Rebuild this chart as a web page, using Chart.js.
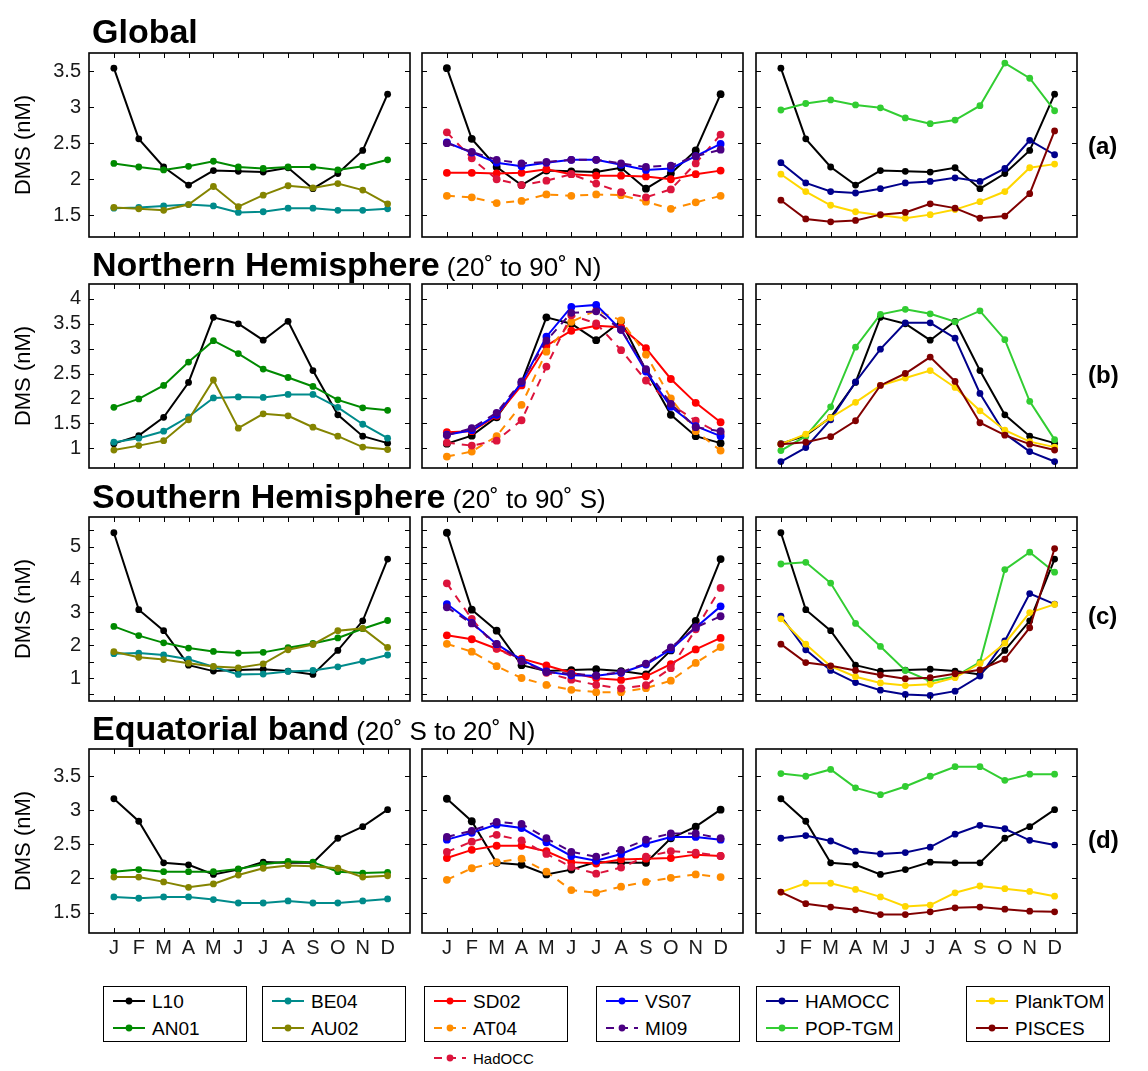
<!DOCTYPE html>
<html>
<head>
<meta charset="utf-8">
<title>DMS seasonal cycles</title>
<script src="https://cdn.jsdelivr.net/npm/chart.js@4.4.1/dist/chart.umd.min.js"></script>
<style>
  body { margin:0; background:#fff; width:1148px; height:1071px; position:relative; overflow:hidden;
         font-family:"Liberation Sans", Arial, Helvetica, sans-serif; }
  canvas.panel { position:absolute; }
  .title { position:absolute; left:92px; font-size:34px; font-weight:bold; color:#000; white-space:nowrap; line-height:1; }
  .title span { font-weight:normal; font-size:26px; }
  .tag { position:absolute; left:1088px; font-size:24px; font-weight:bold; color:#000; line-height:1; }
  .box { position:absolute; border:1px solid #000; background:#fff; }
  .entry { position:absolute; white-space:nowrap; color:#000; line-height:1; }
  .entry canvas { position:absolute; }
</style>
</head>
<body>
<script>
// Month tick labels
const months = ['J','F','M','A','M','J','J','A','S','O','N','D'];

// y-axis ticks per region
const gloTicks = [1.5, 2, 2.5, 3, 3.5];
const nhTicks  = [1, 1.5, 2, 2.5, 3, 3.5, 4];
const shTicks  = [0.5, 1, 1.5, 2, 2.5, 3, 3.5, 4, 4.5, 5, 5.5];
const eqTicks  = [1.5, 2, 2.5, 3, 3.5];

// Global
const glo_L10      = [3.54, 2.56, 2.17, 1.92, 2.12, 2.11, 2.10, 2.16, 1.87, 2.08, 2.40, 3.18];
const glo_AN01     = [2.22, 2.17, 2.13, 2.18, 2.25, 2.17, 2.15, 2.17, 2.17, 2.13, 2.18, 2.27];
const glo_BE04     = [1.60, 1.61, 1.63, 1.65, 1.63, 1.54, 1.55, 1.60, 1.60, 1.57, 1.57, 1.59];
const glo_AU02     = [1.61, 1.59, 1.57, 1.65, 1.90, 1.62, 1.78, 1.91, 1.88, 1.94, 1.85, 1.66];
const glo_SD02     = [2.09, 2.09, 2.08, 2.09, 2.14, 2.07, 2.05, 2.05, 2.04, 2.00, 2.07, 2.12];
const glo_AT04     = [1.77, 1.75, 1.67, 1.70, 1.79, 1.77, 1.79, 1.78, 1.69, 1.59, 1.68, 1.77];
const glo_HadOCC   = [2.65, 2.29, 2.00, 1.92, 1.98, 2.07, 1.94, 1.82, 1.75, 1.86, 2.22, 2.62];
const glo_VS07     = [2.51, 2.37, 2.23, 2.18, 2.23, 2.27, 2.27, 2.20, 2.13, 2.15, 2.32, 2.49];
const glo_MI09     = [2.50, 2.38, 2.27, 2.22, 2.24, 2.27, 2.27, 2.22, 2.17, 2.19, 2.32, 2.41];
const glo_HAMOCC   = [2.23, 1.95, 1.83, 1.81, 1.87, 1.95, 1.97, 2.02, 1.97, 2.15, 2.54, 2.34];
const glo_POPTGM   = [2.96, 3.05, 3.10, 3.03, 2.99, 2.85, 2.77, 2.82, 3.02, 3.61, 3.40, 2.95];
const glo_PlankTOM = [2.07, 1.83, 1.64, 1.55, 1.50, 1.46, 1.51, 1.58, 1.69, 1.83, 2.16, 2.21];
const glo_PISCES   = [1.71, 1.45, 1.41, 1.43, 1.51, 1.54, 1.66, 1.60, 1.46, 1.49, 1.80, 2.67];

// Northern Hemisphere (20° to 90° N)
const nh_L10      = [1.09, 1.25, 1.62, 2.32, 3.63, 3.50, 3.17, 3.55, 2.56, 1.67, 1.24, 1.10];
const nh_AN01     = [1.82, 1.99, 2.26, 2.73, 3.16, 2.90, 2.59, 2.42, 2.24, 1.97, 1.81, 1.76];
const nh_BE04     = [1.12, 1.20, 1.34, 1.63, 2.01, 2.03, 2.02, 2.08, 2.08, 1.82, 1.48, 1.20];
const nh_AU02     = [0.96, 1.05, 1.15, 1.57, 2.37, 1.40, 1.69, 1.65, 1.42, 1.24, 1.02, 0.97];
const nh_SD02     = [1.32, 1.34, 1.65, 2.26, 3.06, 3.36, 3.46, 3.43, 3.01, 2.39, 1.91, 1.52];
const nh_AT04     = [0.83, 0.93, 1.24, 1.87, 2.94, 3.54, 3.77, 3.57, 2.88, 2.00, 1.34, 0.95];
const nh_HadOCC   = [1.11, 1.05, 1.15, 1.56, 2.64, 3.67, 3.51, 2.97, 2.36, 1.88, 1.55, 1.29];
const nh_VS07     = [1.27, 1.36, 1.67, 2.31, 3.24, 3.84, 3.88, 3.38, 2.54, 1.83, 1.44, 1.24];
const nh_MI09     = [1.26, 1.40, 1.71, 2.34, 3.16, 3.72, 3.75, 3.38, 2.59, 1.89, 1.42, 1.34];
const nh_HAMOCC   = [0.73, 1.01, 1.57, 2.33, 2.99, 3.52, 3.52, 3.21, 2.10, 1.29, 0.93, 0.73];
const nh_POPTGM   = [0.95, 1.24, 1.83, 3.03, 3.69, 3.79, 3.70, 3.54, 3.76, 3.18, 1.94, 1.17];
const nh_PlankTOM = [1.08, 1.28, 1.61, 1.92, 2.26, 2.41, 2.56, 2.22, 1.75, 1.36, 1.13, 1.02];
const nh_PISCES   = [1.08, 1.12, 1.23, 1.55, 2.26, 2.50, 2.83, 2.34, 1.51, 1.26, 1.08, 0.96];

// Southern Hemisphere (20° to 90° S)
const sh_L10      = [5.42, 3.08, 2.44, 1.39, 1.21, 1.24, 1.27, 1.21, 1.11, 1.84, 2.74, 4.62];
const sh_AN01     = [2.57, 2.29, 2.07, 1.91, 1.81, 1.76, 1.78, 1.92, 2.05, 2.22, 2.50, 2.75];
const sh_BE04     = [1.74, 1.76, 1.70, 1.57, 1.34, 1.11, 1.12, 1.20, 1.23, 1.34, 1.51, 1.70];
const sh_AU02     = [1.80, 1.63, 1.56, 1.45, 1.35, 1.31, 1.43, 1.86, 2.02, 2.44, 2.51, 1.93];
const sh_SD02     = [2.30, 2.18, 1.89, 1.59, 1.38, 1.16, 0.99, 0.94, 1.05, 1.42, 1.87, 2.22];
const sh_AT04     = [2.04, 1.80, 1.36, 1.00, 0.79, 0.64, 0.57, 0.57, 0.69, 0.92, 1.46, 1.94];
const sh_HadOCC   = [3.88, 2.80, 1.90, 1.52, 1.16, 0.95, 0.79, 0.68, 0.78, 1.30, 2.48, 3.74];
const sh_VS07     = [3.25, 2.68, 2.03, 1.55, 1.20, 1.08, 1.07, 1.16, 1.41, 1.87, 2.54, 3.18];
const sh_MI09     = [3.15, 2.66, 2.04, 1.51, 1.18, 1.13, 1.08, 1.18, 1.44, 1.93, 2.54, 2.88];
const sh_HAMOCC   = [2.88, 1.86, 1.23, 0.86, 0.63, 0.50, 0.47, 0.60, 1.06, 2.13, 3.57, 3.25];
const sh_POPTGM   = [4.47, 4.52, 3.89, 2.66, 1.96, 1.23, 0.90, 1.04, 1.48, 4.30, 4.83, 4.22];
const sh_PlankTOM = [2.80, 2.03, 1.36, 1.04, 0.85, 0.77, 0.81, 1.01, 1.44, 2.06, 2.99, 3.24];
const sh_PISCES   = [2.03, 1.47, 1.37, 1.23, 1.09, 0.98, 1.01, 1.13, 1.25, 1.57, 2.53, 4.94];

// Equatorial band (20° S to 20° N)
const eq_L10      = [3.17, 2.84, 2.23, 2.20, 2.06, 2.13, 2.24, 2.23, 2.23, 2.59, 2.76, 3.01];
const eq_AN01     = [2.10, 2.13, 2.10, 2.10, 2.10, 2.14, 2.21, 2.25, 2.24, 2.10, 2.08, 2.09];
const eq_BE04     = [1.73, 1.71, 1.73, 1.73, 1.69, 1.64, 1.64, 1.67, 1.64, 1.64, 1.67, 1.70];
const eq_AU02     = [2.02, 2.02, 1.95, 1.87, 1.92, 2.05, 2.15, 2.19, 2.18, 2.15, 2.02, 2.04];
const eq_SD02     = [2.30, 2.42, 2.48, 2.48, 2.40, 2.24, 2.22, 2.28, 2.29, 2.30, 2.35, 2.33];
const eq_AT04     = [1.98, 2.15, 2.24, 2.29, 2.10, 1.83, 1.79, 1.88, 1.95, 2.01, 2.06, 2.02];
const eq_HadOCC   = [2.39, 2.54, 2.64, 2.56, 2.36, 2.17, 2.07, 2.16, 2.32, 2.40, 2.38, 2.33];
const eq_VS07     = [2.57, 2.67, 2.79, 2.74, 2.53, 2.33, 2.26, 2.36, 2.51, 2.61, 2.61, 2.57];
const eq_MI09     = [2.61, 2.70, 2.83, 2.80, 2.59, 2.39, 2.32, 2.42, 2.57, 2.66, 2.66, 2.59];
const eq_HAMOCC   = [2.59, 2.63, 2.55, 2.40, 2.36, 2.38, 2.46, 2.65, 2.78, 2.73, 2.56, 2.49];
const eq_POPTGM   = [3.54, 3.50, 3.60, 3.33, 3.23, 3.35, 3.50, 3.64, 3.64, 3.44, 3.53, 3.53];
const eq_PlankTOM = [1.80, 1.93, 1.93, 1.84, 1.73, 1.59, 1.61, 1.79, 1.89, 1.85, 1.81, 1.74];
const eq_PISCES   = [1.80, 1.63, 1.58, 1.54, 1.47, 1.47, 1.51, 1.57, 1.58, 1.55, 1.52, 1.51];

// Line styles for each product / model
const styles = {
  'L10':      { color:'#000000', dash:[] },
  'AN01':     { color:'#008a00', dash:[] },
  'BE04':     { color:'#008b8b', dash:[] },
  'AU02':     { color:'#848400', dash:[] },
  'SD02':     { color:'#ff0000', dash:[] },
  'AT04':     { color:'#ff8c00', dash:[8,7] },
  'HadOCC':   { color:'#dc143c', dash:[8,7] },
  'VS07':     { color:'#0000ff', dash:[] },
  'MI09':     { color:'#4b0082', dash:[8,7] },
  'HAMOCC':   { color:'#00008b', dash:[] },
  'POP-TGM':  { color:'#32cd32', dash:[] },
  'PlankTOM': { color:'#ffd700', dash:[] },
  'PISCES':   { color:'#800000', dash:[] }
};

const rows = [
  { ticks:gloTicks, min:1.2, max:3.75, top:53,
    cols:[ {'L10':glo_L10,'AN01':glo_AN01,'BE04':glo_BE04,'AU02':glo_AU02},
           {'L10':glo_L10,'SD02':glo_SD02,'AT04':glo_AT04,'HadOCC':glo_HadOCC,'VS07':glo_VS07,'MI09':glo_MI09},
           {'L10':glo_L10,'HAMOCC':glo_HAMOCC,'POP-TGM':glo_POPTGM,'PlankTOM':glo_PlankTOM,'PISCES':glo_PISCES} ] },
  { ticks:nhTicks, min:0.6, max:4.3, top:284,
    cols:[ {'L10':nh_L10,'AN01':nh_AN01,'BE04':nh_BE04,'AU02':nh_AU02},
           {'L10':nh_L10,'SD02':nh_SD02,'AT04':nh_AT04,'HadOCC':nh_HadOCC,'VS07':nh_VS07,'MI09':nh_MI09},
           {'L10':nh_L10,'HAMOCC':nh_HAMOCC,'POP-TGM':nh_POPTGM,'PlankTOM':nh_PlankTOM,'PISCES':nh_PISCES} ] },
  { ticks:shTicks, min:0.3, max:5.9, top:517, intOnly:true,
    cols:[ {'L10':sh_L10,'AN01':sh_AN01,'BE04':sh_BE04,'AU02':sh_AU02},
           {'L10':sh_L10,'SD02':sh_SD02,'AT04':sh_AT04,'HadOCC':sh_HadOCC,'VS07':sh_VS07,'MI09':sh_MI09},
           {'L10':sh_L10,'HAMOCC':sh_HAMOCC,'POP-TGM':sh_POPTGM,'PlankTOM':sh_PlankTOM,'PISCES':sh_PISCES} ] },
  { ticks:eqTicks, min:1.2, max:3.9, top:749,
    cols:[ {'L10':eq_L10,'AN01':eq_AN01,'BE04':eq_BE04,'AU02':eq_AU02},
           {'L10':eq_L10,'SD02':eq_SD02,'AT04':eq_AT04,'HadOCC':eq_HadOCC,'VS07':eq_VS07,'MI09':eq_MI09},
           {'L10':eq_L10,'HAMOCC':eq_HAMOCC,'POP-TGM':eq_POPTGM,'PlankTOM':eq_PlankTOM,'PISCES':eq_PISCES} ] }
];

const colLefts = [89, 422, 756];
const plotW = 321, plotH = 184;
const FONT = '"Liberation Sans", Arial, Helvetica, sans-serif';

// Box around each axes with short inward tick marks on all four sides
const framePlugin = {
  id: 'frame',
  afterDraw(chart) {
    const { ctx, chartArea: a, scales } = chart;
    ctx.save();
    ctx.strokeStyle = '#000';
    ctx.lineWidth = 1;
    const L = 5;
    ctx.beginPath();
    scales.x.ticks.forEach(t => {
      const px = Math.round(scales.x.getPixelForValue(t.value)) + 0.5;
      ctx.moveTo(px, a.top); ctx.lineTo(px, a.top + L);
      ctx.moveTo(px, a.bottom); ctx.lineTo(px, a.bottom - L);
    });
    scales.y.ticks.forEach(t => {
      const py = Math.round(scales.y.getPixelForValue(t.value)) + 0.5;
      ctx.moveTo(a.left, py); ctx.lineTo(a.left + L, py);
      ctx.moveTo(a.right, py); ctx.lineTo(a.right - L, py);
    });
    ctx.stroke();
    ctx.lineWidth = 1.6;
    ctx.strokeRect(a.left, a.top, a.right - a.left, a.bottom - a.top);
    ctx.restore();
  }
};

rows.forEach((row, r) => {
  row.cols.forEach((series, c) => {
    const isLeft = c === 0, isBottom = r === rows.length - 1;
    // margins around the plot area kept larger than any tick-label overhang
    const YW = isLeft ? 89 : 14, XH = isBottom ? 34 : 18, PT = 18, PR = 14;
    const cv = document.createElement('canvas');
    cv.className = 'panel';
    cv.width = YW + plotW + PR;
    cv.height = PT + plotH + XH;
    cv.style.left = (colLefts[c] - YW) + 'px';
    cv.style.top = (row.top - PT) + 'px';
    document.body.appendChild(cv);

    const names = Object.keys(series);
    const datasets = names.map((name, i) => ({
      label: name,
      data: series[name].map((v, k) => ({ x: k + 1, y: v })),
      borderColor: styles[name].color,
      backgroundColor: styles[name].color,
      borderWidth: 2,
      borderDash: styles[name].dash,
      pointRadius: c === 1 ? 3.9 : 3.4,
      pointBorderWidth: 0,
      pointBackgroundColor: styles[name].color,
      tension: 0,
      clip: false,
      order: -i
    }));

    new Chart(cv, {
      type: 'line',
      data: { datasets },
      options: {
        responsive: false,
        animation: false,
        devicePixelRatio: 1,
        events: [],
        layout: { padding: { top: PT, right: PR, left: 0, bottom: 0 } },
        plugins: { legend: { display: false }, tooltip: { enabled: false } },
        scales: {
          x: {
            type: 'linear', min: 0, max: 12.9,
            afterBuildTicks: s => { s.ticks = months.map((m, i) => ({ value: i + 1 })); },
            afterFit: s => { s.height = XH; },
            grid: { display: false, drawTicks: false },
            border: { display: false },
            ticks: {
              display: isBottom, autoSkip: false, maxRotation: 0, padding: 3,
              callback: v => months[v - 1],
              font: { family: FONT, size: 20 }, color: '#1a1a1a'
            }
          },
          y: {
            type: 'linear', min: row.min, max: row.max,
            afterBuildTicks: s => { s.ticks = row.ticks.map(v => ({ value: v })); },
            afterFit: s => { s.width = YW; },
            grid: { display: false, drawTicks: false },
            border: { display: false },
            ticks: {
              display: isLeft, autoSkip: false, padding: 8,
              callback: v => (row.intOnly && !Number.isInteger(v)) ? '' : String(v),
              font: { family: FONT, size: 20, lineHeight: 0.5 }, color: '#1a1a1a'
            },
            title: {
              display: isLeft, text: 'DMS (nM)',
              font: { family: FONT, size: 22 }, color: '#000',
              padding: { top: 11, bottom: 0 }
            }
          }
        }
      },
      plugins: [framePlugin]
    });
  });
});

// Row titles and panel tags
const titles = [
  { bold:'Global', sub:'', top:14 },
  { bold:'Northern Hemisphere', sub:' (20\u02DA to 90\u02DA N)', top:247 },
  { bold:'Southern Hemisphere', sub:' (20\u02DA to 90\u02DA S)', top:479 },
  { bold:'Equatorial band', sub:' (20\u02DA S to 20\u02DA N)', top:711 }
];
titles.forEach(t => {
  const d = document.createElement('div');
  d.className = 'title';
  d.style.top = t.top + 'px';
  d.textContent = t.bold;
  if (t.sub) { const s = document.createElement('span'); s.textContent = t.sub; d.appendChild(s); }
  document.body.appendChild(d);
});
const tags = [['(a)', 134], ['(b)', 363], ['(c)', 604], ['(d)', 828]];
tags.forEach(([txt, top]) => {
  const d = document.createElement('div');
  d.className = 'tag'; d.style.top = top + 'px'; d.textContent = txt;
  document.body.appendChild(d);
});

// Legend boxes along the bottom
const legendGroups = [['L10','AN01'], ['BE04','AU02'], ['SD02','AT04','HadOCC'], ['VS07','MI09'], ['HAMOCC','POP-TGM'], ['PlankTOM','PISCES']];
const legendLefts = [103, 262, 424, 596, 756, 966];
legendGroups.forEach((group, g) => {
  const box = document.createElement('div');
  box.className = 'box';
  box.style.left = legendLefts[g] + 'px';
  box.style.top = '986px';
  box.style.width = '142px';
  box.style.height = '54px';
  document.body.appendChild(box);
  group.forEach((name, i) => {
    const small = i === 2;
    const e = document.createElement('div');
    e.className = 'entry';
    const cy = 1001 + i * 27 + (small ? 3 : 0);
    e.style.left = (legendLefts[g] + 9) + 'px';
    e.style.top = (cy - 10) + 'px';
    const sw = document.createElement('canvas');
    sw.width = 34; sw.height = 20;
    sw.style.left = '0px'; sw.style.top = '0px';
    const cx = sw.getContext('2d');
    cx.strokeStyle = styles[name].color; cx.fillStyle = styles[name].color;
    cx.lineWidth = 2; cx.setLineDash(styles[name].dash.length ? [8, 6] : []);
    cx.beginPath(); cx.moveTo(1, 10); cx.lineTo(33, 10); cx.stroke();
    cx.beginPath(); cx.arc(17, 10, 3.4, 0, Math.PI * 2); cx.fill();
    e.appendChild(sw);
    const tx = document.createElement('span');
    tx.textContent = name;
    tx.style.position = 'absolute';
    tx.style.left = '40px';
    tx.style.top = small ? '3px' : '1px';
    tx.style.fontSize = small ? '15px' : '19px';
    e.appendChild(tx);
    document.body.appendChild(e);
  });
});
</script>
</body>
</html>
